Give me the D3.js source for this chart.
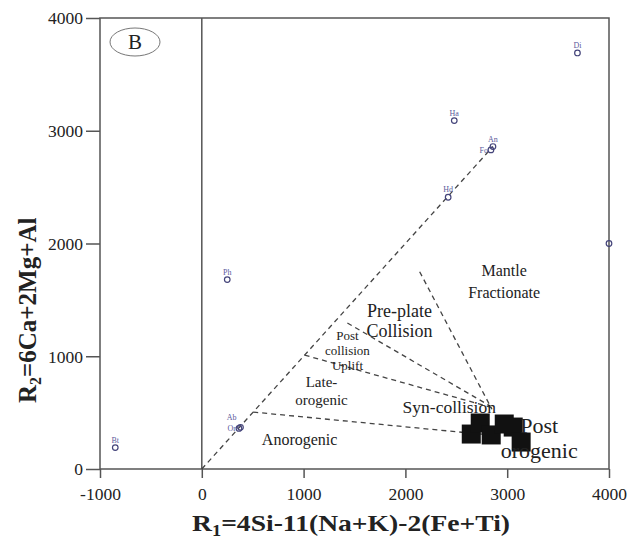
<!DOCTYPE html>
<html><head><meta charset="utf-8">
<script src="https://cdn.jsdelivr.net/npm/d3@7"></script>
<style>body{margin:0;background:#fff}svg{display:block}</style>
</head><body><div id="c"></div>
<script>
// ---- data ----
const xTicks = [-1000, 0, 1000, 2000, 3000, 4000];
const yTicks = [0, 1000, 2000, 3000, 4000];
const minerals = [
  {name: "Bt", x: -850, y: 190, pos: "top"},
  {name: "Ab", x: 380, y: 370, pos: "topleft"},
  {name: "Or", x: 365, y: 360, pos: "left"},
  {name: "Ph", x: 250, y: 1680, pos: "top"},
  {name: "Hd", x: 2420, y: 2410, pos: "top"},
  {name: "Ha", x: 2480, y: 3090, pos: "top"},
  {name: "An", x: 2860, y: 2860, pos: "top"},
  {name: "Fo", x: 2840, y: 2830, pos: "left"},
  {name: "Di", x: 3690, y: 3690, pos: "top"},
  {name: "", x: 4000, y: 2000, pos: "top"}
];
const samplesX = [2647, 2735, 2843, 2971, 3059, 3137];
const samplesY = [310, 408, 302, 399, 372, 239];
const boundaries = [
  [[0, 0], [2860, 2860]],
  [[505, 505], [2850, 300]],
  [[1010, 1010], [2870, 540]],
  [[1430, 1295], [2830, 560]],
  [[2140, 1750], [2850, 530]]
];
const fieldLabels = [
  {lines: ["Mantle", "Fractionate"], x: 2970, y: 1710, size: 16, lh: 1.35},
  {lines: ["Pre-plate", "Collision"], x: 1941, y: 1348, size: 18, lh: 1.12},
  {lines: ["Post", "collision", "Uplift"], x: 1431, y: 1144, size: 13, lh: 1.15},
  {lines: ["Late-", "orogenic"], x: 1176, y: 727, size: 15, lh: 1.2},
  {lines: ["Syn-collision"], x: 2431, y: 497, size: 17.5, lh: 1.2},
  {lines: ["Anorogenic"], x: 961, y: 213, size: 16, lh: 1.2},
  {lines: ["Post", "orogenic"], x: 3314, y: 319, size: 22, lh: 1.13}
];

// ---- layout ----
const W = 632, H = 546;
const svg = d3.select("#c").append("svg").attr("width", W).attr("height", H);
const x = d3.scaleLinear().domain([-1000, 4000]).range([100, 609]);
const y = d3.scaleLinear().domain([0, 4000]).range([469, 18]);
const serif = "'Liberation Serif','Times New Roman',serif";
const axColor = "#555";

// frame
svg.append("rect").attr("x", x(-1000)).attr("y", y(4000))
  .attr("width", x(4000) - x(-1000)).attr("height", y(0) - y(4000))
  .attr("fill", "none").attr("stroke", axColor).attr("stroke-width", 1.5);
// x=0 line
svg.append("line").attr("x1", x(0)).attr("x2", x(0)).attr("y1", y(0)).attr("y2", y(4000))
  .attr("stroke", axColor).attr("stroke-width", 1.5);

// axes
const gx = svg.append("g").attr("transform", `translate(0,${y(0)})`)
  .call(d3.axisBottom(x).tickValues(xTicks).tickSize(9).tickSizeOuter(0).tickFormat(d => String(d)));
const gy = svg.append("g").attr("transform", `translate(${x(-1000)},0)`)
  .call(d3.axisLeft(y).tickValues(yTicks).tickSize(14).tickSizeOuter(0).tickFormat(d => String(d)));
[gx, gy].forEach(g => {
  g.select(".domain").remove();
  g.selectAll("line").attr("stroke", axColor).attr("stroke-width", 1.5);
  g.selectAll("text").attr("font-family", serif).attr("font-size", 17.5).attr("fill", "#222");
});
gx.selectAll("text").attr("y", 31).attr("dy", 0);
gy.selectAll("text").attr("x", -17).attr("dy", "0.33em");

// boundaries
boundaries.forEach(b => {
  svg.append("line").attr("x1", x(b[0][0])).attr("y1", y(b[0][1]))
    .attr("x2", x(b[1][0])).attr("y2", y(b[1][1]))
    .attr("stroke", "#444").attr("stroke-width", 1.3).attr("stroke-dasharray", "5,4");
});

// minerals
const mColor = "#5a5a9c";
minerals.forEach(m => {
  svg.append("circle").attr("cx", x(m.x)).attr("cy", y(m.y)).attr("r", 2.8)
    .attr("fill", "none").attr("stroke", "#44447a").attr("stroke-width", 1.2);
  if (m.name) {
    let tx = x(m.x), ty = y(m.y) - 5, anchor = "middle";
    if (m.pos === "left") { tx = x(m.x) - 3; ty = y(m.y) + 3; anchor = "end"; }
    if (m.pos === "topleft") { tx = x(m.x) - 4; ty = y(m.y) - 7; anchor = "end"; }
    svg.append("text").attr("x", tx).attr("y", ty)
      .attr("text-anchor", anchor).attr("font-family", serif).attr("font-size", 8)
      .attr("fill", mColor).text(m.name);
  }
});

// samples
const sq = 19;
samplesX.forEach((v, i) => {
  svg.append("rect").attr("x", x(v) - sq / 2).attr("y", y(samplesY[i]) - sq / 2)
    .attr("width", sq).attr("height", sq).attr("fill", "#111");
});

// field labels
fieldLabels.forEach(f => {
  const t = svg.append("text").attr("font-family", serif).attr("font-size", f.size)
    .attr("fill", "#222").attr("text-anchor", "middle");
  f.lines.forEach((l, i) => {
    t.append("tspan").attr("x", x(f.x)).attr("y", y(f.y) + i * f.size * f.lh).text(l);
  });
});

// B label
svg.append("ellipse").attr("cx", 135).attr("cy", 42).attr("rx", 25).attr("ry", 14)
  .attr("fill", "none").attr("stroke", "#777").attr("stroke-width", 1);
svg.append("text").attr("x", 135).attr("y", 49).attr("text-anchor", "middle")
  .attr("font-family", serif).attr("font-size", 21).attr("fill", "#222").text("B");

// axis titles
const xt = svg.append("text").attr("transform", "translate(351,531) scale(1.15,1)")
  .attr("text-anchor", "middle")
  .attr("font-family", serif).attr("font-size", 24).attr("font-weight", "bold").attr("fill", "#222");
xt.append("tspan").text("R");
xt.append("tspan").attr("font-size", 16).attr("dy", 5).text("1");
xt.append("tspan").attr("dy", -5).text("=4Si-11(Na+K)-2(Fe+Ti)");

const yt = svg.append("text").attr("transform", `translate(36,403) rotate(-90)`)
  .attr("text-anchor", "start").attr("font-family", serif).attr("font-size", 25)
  .attr("font-weight", "bold").attr("fill", "#222");
yt.append("tspan").text("R");
yt.append("tspan").attr("font-size", 16).attr("dy", 5).text("2");
yt.append("tspan").attr("dy", -5).text("=6Ca+2Mg+Al");
</script></body></html>
